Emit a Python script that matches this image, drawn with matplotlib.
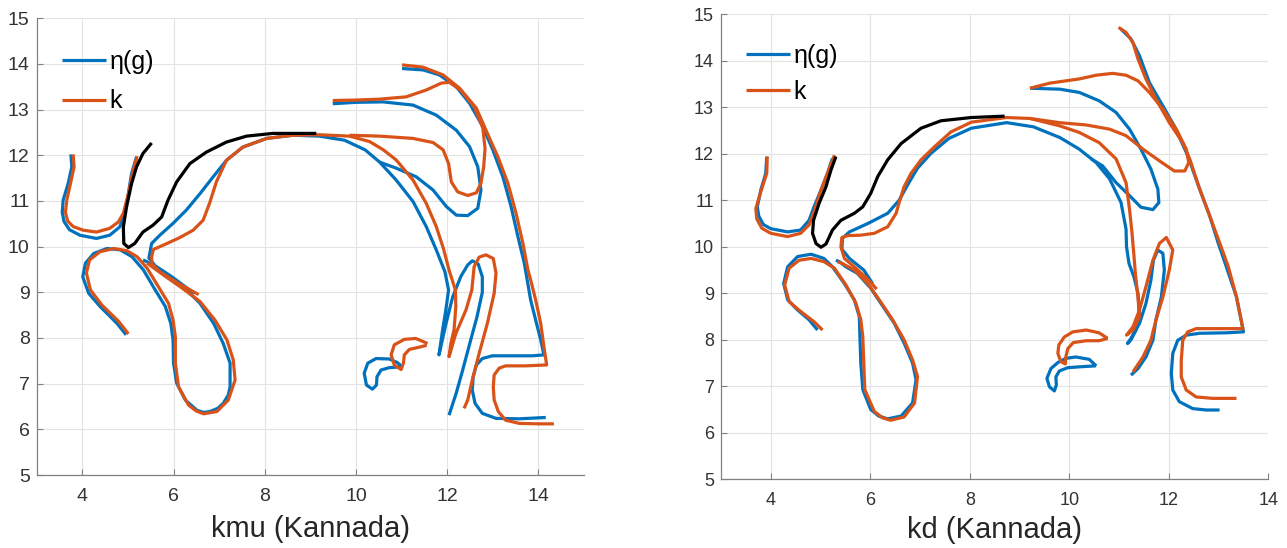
import matplotlib.pyplot as plt
import numpy as np

plt.rcParams['font.family'] = ['Liberation Sans', 'DejaVu Sans']

BLUE = '#0072BD'
ORANGE = '#D95319'

# ---- kmu (Kannada): traced pen strokes, (x, y) points ----
kmu_eta = [
    [(3.75, 12.02), (3.77, 11.75), (3.69, 11.38), (3.58, 11.02), (3.56, 10.75), (3.6, 10.55),
     (3.72, 10.37), (3.95, 10.25), (4.31, 10.18), (4.6, 10.25), (4.82, 10.43), (4.93, 10.73),
     (5.01, 11.16), (5.08, 11.6), (5.19, 11.97)],
    [(4.96, 8.07), (4.76, 8.32), (4.39, 8.69), (4.14, 8.98), (4.01, 9.34), (4.07, 9.64),
     (4.25, 9.85), (4.54, 9.96), (4.83, 9.93), (5.09, 9.78), (5.34, 9.49), (5.6, 9.05),
     (5.82, 8.69), (5.94, 8.32), (5.99, 7.96), (6.0, 7.45), (6.07, 7.01), (6.26, 6.64),
     (6.51, 6.42), (6.66, 6.37), (6.8, 6.39), (6.97, 6.46), (7.09, 6.57), (7.2, 6.75),
     (7.24, 6.93), (7.24, 7.45), (7.09, 7.88), (6.88, 8.32), (6.58, 8.76), (6.29, 9.05),
     (5.85, 9.34), (5.56, 9.56), (5.42, 9.67), (5.33, 9.71)],
    [(6.45, 8.98), (5.95, 9.35), (5.6, 9.58), (5.46, 9.75), (5.52, 10.07), (5.7, 10.25),
     (5.99, 10.51), (6.28, 10.8), (6.58, 11.16), (6.87, 11.53), (7.16, 11.89), (7.52, 12.18),
     (8.04, 12.37), (8.62, 12.44), (9.2, 12.42), (9.75, 12.33), (10.2, 12.12), (10.52, 11.85),
     (10.88, 11.46), (11.25, 10.99), (11.54, 10.44), (11.76, 9.93), (11.95, 9.45),
     (12.03, 9.05), (11.97, 8.61), (11.9, 8.18), (11.82, 7.63), (11.97, 8.3), (12.12, 8.9),
     (12.3, 9.35), (12.45, 9.6), (12.55, 9.69), (12.68, 9.62), (12.77, 9.34), (12.77, 9.0),
     (12.65, 8.45), (12.5, 7.9), (12.34, 7.3), (12.2, 6.8), (12.04, 6.31)],
    [(9.49, 13.13), (10.0, 13.16), (10.59, 13.17), (11.25, 13.1), (11.76, 12.88),
     (12.2, 12.55), (12.49, 12.19), (12.67, 11.75), (12.74, 11.24), (12.67, 10.84),
     (12.45, 10.68), (12.2, 10.69), (11.98, 10.88), (11.69, 11.24), (11.32, 11.53),
     (10.88, 11.72), (10.52, 11.85)],
    [(11.01, 13.9), (11.47, 13.87), (11.83, 13.76), (12.2, 13.5), (12.49, 13.14),
     (12.78, 12.63), (13.0, 12.12), (13.22, 11.53), (13.4, 10.88), (13.55, 10.22),
     (13.69, 9.64), (13.83, 8.83), (13.94, 8.39), (14.05, 7.96), (14.12, 7.63), (13.87, 7.61),
     (13.43, 7.61), (12.99, 7.61), (12.77, 7.55), (12.64, 7.41), (12.57, 7.15), (12.55, 6.86),
     (12.61, 6.57), (12.77, 6.35), (13.07, 6.24), (13.58, 6.23), (14.16, 6.26)],
    [(11.01, 7.37), (10.73, 7.35), (10.55, 7.3), (10.46, 7.15), (10.45, 6.97), (10.36, 6.88),
     (10.23, 6.97), (10.18, 7.23), (10.26, 7.45), (10.44, 7.55), (10.73, 7.54), (10.91, 7.46),
     (11.01, 7.37)],
]

kmu_k = [
    [(3.8, 12.02), (3.82, 11.75), (3.74, 11.38), (3.66, 11.02), (3.63, 10.75), (3.68, 10.56),
     (3.8, 10.44), (4.02, 10.36), (4.31, 10.32), (4.6, 10.4), (4.79, 10.54), (4.9, 10.73),
     (5.01, 11.16), (5.1, 11.6), (5.2, 11.98)],
    [(5.01, 8.09), (4.8, 8.36), (4.43, 8.72), (4.18, 9.05), (4.09, 9.42), (4.16, 9.71),
     (4.39, 9.89), (4.69, 9.96), (4.98, 9.91), (5.2, 9.78), (5.42, 9.53), (5.67, 9.12),
     (5.89, 8.76), (5.99, 8.39), (6.04, 8.03), (6.04, 7.45), (6.11, 6.93), (6.33, 6.53),
     (6.5, 6.4), (6.66, 6.34), (6.95, 6.39), (7.2, 6.64), (7.35, 7.08), (7.31, 7.52),
     (7.17, 7.96), (6.91, 8.39), (6.58, 8.8), (6.15, 9.12), (5.78, 9.38), (5.53, 9.56),
     (5.42, 9.64)],
    [(6.55, 8.95), (6.1, 9.2), (5.7, 9.45), (5.53, 9.62), (5.52, 9.78), (5.56, 9.94),
     (5.77, 10.03), (6.14, 10.2), (6.43, 10.36), (6.65, 10.58), (6.79, 10.95), (6.94, 11.42),
     (7.16, 11.89), (7.52, 12.18), (8.04, 12.37), (8.62, 12.44), (9.2, 12.45), (9.86, 12.42),
     (10.3, 12.3), (10.6, 12.12), (10.88, 11.9), (11.25, 11.46), (11.54, 10.95),
     (11.76, 10.44), (11.92, 9.95), (12.04, 9.49), (12.18, 9.05), (12.19, 8.69),
     (12.15, 8.18), (12.08, 7.88), (12.04, 7.59), (12.19, 8.1), (12.41, 8.61), (12.54, 9.05),
     (12.59, 9.56), (12.7, 9.77), (12.85, 9.82), (13.01, 9.74), (13.07, 9.42), (13.03, 8.98),
     (12.88, 8.32), (12.7, 7.66), (12.55, 7.08), (12.45, 6.64), (12.37, 6.46)],
    [(9.49, 13.2), (10.0, 13.21), (10.52, 13.23), (11.1, 13.28), (11.54, 13.43),
     (11.87, 13.58), (12.05, 13.6), (12.3, 13.42), (12.6, 13.05), (12.78, 12.6),
     (12.83, 12.15), (12.8, 11.75), (12.74, 11.39), (12.64, 11.18), (12.45, 11.12),
     (12.23, 11.2), (12.09, 11.42), (12.03, 11.82), (11.91, 12.12), (11.69, 12.28),
     (11.25, 12.37), (10.52, 12.42), (9.86, 12.44)],
    [(11.01, 13.98), (11.47, 13.93), (11.91, 13.76), (12.27, 13.47), (12.64, 13.03),
     (12.85, 12.55), (13.11, 11.97), (13.33, 11.39), (13.51, 10.73), (13.66, 10.07),
     (13.77, 9.49), (13.83, 9.27), (13.94, 8.83), (14.05, 8.32), (14.12, 7.81), (14.18, 7.41),
     (13.72, 7.39), (13.28, 7.39), (13.14, 7.34), (13.03, 7.19), (13.01, 6.93), (13.03, 6.64),
     (13.12, 6.39), (13.28, 6.2), (13.58, 6.13), (14.01, 6.12), (14.34, 6.12)],
    [(11.57, 7.88), (11.31, 7.99), (11.06, 7.97), (10.84, 7.85), (10.77, 7.63), (10.84, 7.41),
     (10.99, 7.31), (11.04, 7.45), (11.06, 7.63), (11.17, 7.75), (11.39, 7.8), (11.55, 7.84)],
]

kmu_common = [
    [(5.52, 12.27), (5.33, 12.04), (5.19, 11.75), (5.08, 11.38), (4.97, 10.87), (4.9, 10.43),
     (4.91, 10.07), (5.01, 9.98), (5.15, 10.07), (5.33, 10.32), (5.55, 10.47), (5.74, 10.65),
     (5.88, 11.02), (6.07, 11.42), (6.36, 11.82), (6.72, 12.07), (7.16, 12.29), (7.6, 12.42),
     (8.18, 12.48), (9.13, 12.48)],
]

# ---- kd (Kannada) ----
kd_eta = [
    [(3.92, 11.94), (3.9, 11.58), (3.8, 11.22), (3.73, 10.86), (3.76, 10.66), (3.85, 10.48),
     (4.0, 10.39), (4.34, 10.32), (4.6, 10.36), (4.77, 10.57), (4.87, 10.86), (5.01, 11.22),
     (5.14, 11.58), (5.24, 11.9)],
    [(4.94, 8.21), (4.77, 8.43), (4.54, 8.64), (4.34, 8.86), (4.26, 9.21), (4.34, 9.57),
     (4.54, 9.79), (4.81, 9.84), (5.07, 9.75), (5.24, 9.57), (5.48, 9.21), (5.68, 8.86),
     (5.78, 8.5), (5.79, 8.14), (5.81, 7.5), (5.85, 6.93), (6.01, 6.5), (6.17, 6.36),
     (6.35, 6.3), (6.62, 6.36), (6.85, 6.64), (6.92, 7.14), (6.85, 7.5), (6.68, 7.93),
     (6.48, 8.36), (6.21, 8.79), (6.01, 9.11), (5.74, 9.43), (5.51, 9.57), (5.38, 9.68),
     (5.31, 9.71)],
    [(6.05, 9.2), (5.87, 9.5), (5.58, 9.75), (5.43, 9.95), (5.44, 10.18), (5.58, 10.32),
     (5.95, 10.5), (6.35, 10.72), (6.58, 11.0), (6.75, 11.33), (6.95, 11.69), (7.22, 12.01),
     (7.58, 12.33), (8.03, 12.55), (8.74, 12.67), (9.28, 12.58), (9.81, 12.35), (10.2, 12.1),
     (10.54, 11.81), (10.81, 11.46), (11.04, 10.95), (11.14, 10.38), (11.15, 10.0),
     (11.2, 9.64), (11.3, 9.35), (11.38, 9.0), (11.41, 8.57), (11.34, 8.21), (11.24, 8.0),
     (11.17, 7.92), (11.24, 8.03), (11.41, 8.35), (11.54, 8.78), (11.64, 9.28), (11.69, 9.71),
     (11.78, 9.93), (11.88, 9.86), (11.91, 9.5), (11.85, 8.92), (11.74, 8.42), (11.68, 7.99),
     (11.54, 7.63), (11.38, 7.38), (11.24, 7.24)],
    [(9.21, 13.41), (9.81, 13.39), (10.2, 13.32), (10.6, 13.14), (10.94, 12.89),
     (11.21, 12.53), (11.44, 12.1), (11.64, 11.67), (11.78, 11.24), (11.8, 10.95),
     (11.68, 10.8), (11.44, 10.85), (11.21, 11.1), (10.94, 11.38), (10.67, 11.74),
     (10.44, 11.89)],
    [(11.04, 14.68), (11.24, 14.47), (11.41, 14.11), (11.61, 13.53), (11.88, 13.03),
     (12.11, 12.6), (12.38, 11.96), (12.62, 11.24), (12.82, 10.67), (12.99, 10.09),
     (13.15, 9.59), (13.36, 8.92), (13.5, 8.17), (13.15, 8.15), (12.62, 8.14), (12.35, 8.1),
     (12.18, 7.99), (12.08, 7.71), (12.05, 7.28), (12.08, 6.92), (12.21, 6.67), (12.48, 6.52),
     (12.75, 6.49), (13.02, 6.49)],
    [(10.54, 7.44), (10.4, 7.58), (10.13, 7.63), (9.93, 7.6), (9.77, 7.51), (9.63, 7.38),
     (9.55, 7.17), (9.6, 6.99), (9.7, 6.9), (9.74, 7.03), (9.73, 7.2), (9.8, 7.33),
     (9.97, 7.4), (10.23, 7.42), (10.54, 7.44)],
]

kd_k = [
    [(3.93, 11.94), (3.92, 11.58), (3.81, 11.22), (3.7, 10.82), (3.72, 10.6), (3.82, 10.4),
     (4.0, 10.29), (4.34, 10.22), (4.6, 10.29), (4.77, 10.47), (4.87, 10.75), (5.01, 11.22),
     (5.14, 11.58), (5.28, 11.97)],
    [(5.04, 8.21), (4.87, 8.39), (4.6, 8.61), (4.37, 8.82), (4.28, 9.18), (4.37, 9.54),
     (4.57, 9.71), (4.81, 9.75), (5.07, 9.68), (5.28, 9.54), (5.51, 9.18), (5.71, 8.79),
     (5.81, 8.43), (5.85, 8.07), (5.87, 7.5), (5.89, 6.93), (6.08, 6.46), (6.25, 6.32),
     (6.41, 6.27), (6.68, 6.34), (6.89, 6.64), (6.95, 7.21), (6.85, 7.57), (6.68, 8.0),
     (6.45, 8.43), (6.18, 8.86), (5.95, 9.21), (5.68, 9.5), (5.44, 9.64), (5.34, 9.68)],
    [(6.13, 9.09), (5.95, 9.3), (5.7, 9.55), (5.48, 9.75), (5.41, 10.0), (5.43, 10.2),
     (5.55, 10.24), (5.81, 10.25), (6.08, 10.29), (6.35, 10.43), (6.52, 10.72), (6.58, 10.95),
     (6.68, 11.29), (6.82, 11.58), (7.02, 11.87), (7.29, 12.15), (7.62, 12.47), (8.03, 12.68),
     (8.74, 12.78), (9.21, 12.76), (9.81, 12.6), (10.2, 12.46), (10.6, 12.24), (10.94, 11.89),
     (11.14, 11.38), (11.21, 10.81), (11.26, 10.3), (11.3, 9.8), (11.33, 9.4), (11.38, 8.92),
     (11.41, 8.49), (11.28, 8.21), (11.15, 8.1), (11.28, 8.28), (11.41, 8.64), (11.54, 9.14),
     (11.68, 9.71), (11.81, 10.07), (11.95, 10.2), (12.08, 9.93), (12.01, 9.5), (11.88, 8.92),
     (11.74, 8.42), (11.64, 7.99), (11.48, 7.63), (11.28, 7.31)],
    [(9.21, 13.41), (9.61, 13.52), (10.2, 13.61), (10.54, 13.69), (10.87, 13.73),
     (11.14, 13.69), (11.38, 13.57), (11.61, 13.32), (11.88, 12.96), (12.15, 12.53),
     (12.35, 12.1), (12.4, 11.81), (12.32, 11.63), (12.11, 11.63), (11.81, 11.85),
     (11.48, 12.1), (11.14, 12.39), (10.81, 12.53), (10.34, 12.62), (9.8, 12.67),
     (9.21, 12.76)],
    [(10.99, 14.72), (11.14, 14.61), (11.28, 14.39), (11.38, 14.04), (11.54, 13.61),
     (11.74, 13.18), (12.01, 12.67), (12.28, 12.24), (12.42, 11.89), (12.62, 11.24),
     (12.82, 10.67), (13.02, 10.09), (13.19, 9.59), (13.36, 8.92), (13.49, 8.24),
     (12.95, 8.24), (12.55, 8.24), (12.38, 8.17), (12.28, 7.99), (12.25, 7.56), (12.25, 7.2),
     (12.35, 6.92), (12.55, 6.77), (12.89, 6.74), (13.36, 6.74)],
    [(10.77, 8.03), (10.6, 8.15), (10.34, 8.21), (10.07, 8.17), (9.9, 8.06), (9.79, 7.89),
     (9.77, 7.71), (9.83, 7.53), (9.92, 7.48), (9.93, 7.63), (9.97, 7.81), (10.08, 7.94),
     (10.34, 7.98), (10.6, 7.98), (10.77, 8.03)],
]

kd_common = [
    [(5.31, 11.94), (5.21, 11.65), (5.11, 11.29), (4.97, 10.93), (4.86, 10.57), (4.84, 10.29),
     (4.91, 10.07), (5.01, 9.99), (5.11, 10.06), (5.24, 10.36), (5.41, 10.57), (5.68, 10.72),
     (5.85, 10.86), (6.01, 11.15), (6.15, 11.51), (6.35, 11.87), (6.62, 12.22), (7.02, 12.55),
     (7.42, 12.71), (8.03, 12.78), (8.7, 12.81)],
]

panels = [
    dict(eta=kmu_eta, k=kmu_k, common=kmu_common, xmax=15, label='kmu (Kannada)',
         rect=[0.0285, 0.1332, 0.4253, 0.8334], leg_y=0.931, spacing=0.62,
         xlab_y=-0.088, tick_size=14),
    dict(eta=kd_eta, k=kd_k, common=kd_common, xmax=14, label='kd (Kannada)',
         rect=[0.5602, 0.1254, 0.4253, 0.8485], leg_y=0.937, spacing=0.5,
         xlab_y=-0.080, tick_size=13),
]

fig = plt.figure(figsize=(12.87, 5.48), dpi=100)

for p in panels:
    ax = fig.add_axes(p['rect'])
    for i, s in enumerate(p['eta']):
        s = np.array(s)
        ax.plot(s[:, 0], s[:, 1], color=BLUE, lw=2.3, solid_capstyle='butt',
                solid_joinstyle='round', label='η(g)' if i == 0 else None)
    for i, s in enumerate(p['k']):
        s = np.array(s)
        ax.plot(s[:, 0], s[:, 1], color=ORANGE, lw=2.3, solid_capstyle='butt',
                solid_joinstyle='round', label='k' if i == 0 else None)
    for s in p['common']:
        s = np.array(s)
        ax.plot(s[:, 0], s[:, 1], color='black', lw=2.3, solid_capstyle='butt',
                solid_joinstyle='round')

    ax.set_xlim(3, p['xmax'])
    ax.set_ylim(5, 15)
    ax.set_xticks(range(4, 15, 2))
    ax.set_yticks(range(5, 16))
    ax.grid(True, color='#e3e3e3', lw=0.8)
    ax.set_axisbelow(True)
    for side in ['top', 'right']:
        ax.spines[side].set_visible(False)
    for side in ['left', 'bottom']:
        ax.spines[side].set_color('#808080')
        ax.spines[side].set_linewidth(0.9)
    ax.tick_params(direction='in', length=4, color='#808080', labelsize=p['tick_size'],
                   labelcolor='#333333')
    ax.tick_params(axis='x', pad=9)
    ax.tick_params(axis='y', pad=5)

    ax.set_xlabel(p['label'], fontsize=21, color='#262626')
    ax.xaxis.set_label_coords(0.5, p['xlab_y'])

    ax.legend(loc='upper left', bbox_to_anchor=(0.046, p['leg_y']), frameon=False,
              fontsize=18, borderpad=0, borderaxespad=0, handlelength=1.75,
              handletextpad=0.15, labelspacing=p['spacing'])

fig.savefig('out.png', dpi=100)
